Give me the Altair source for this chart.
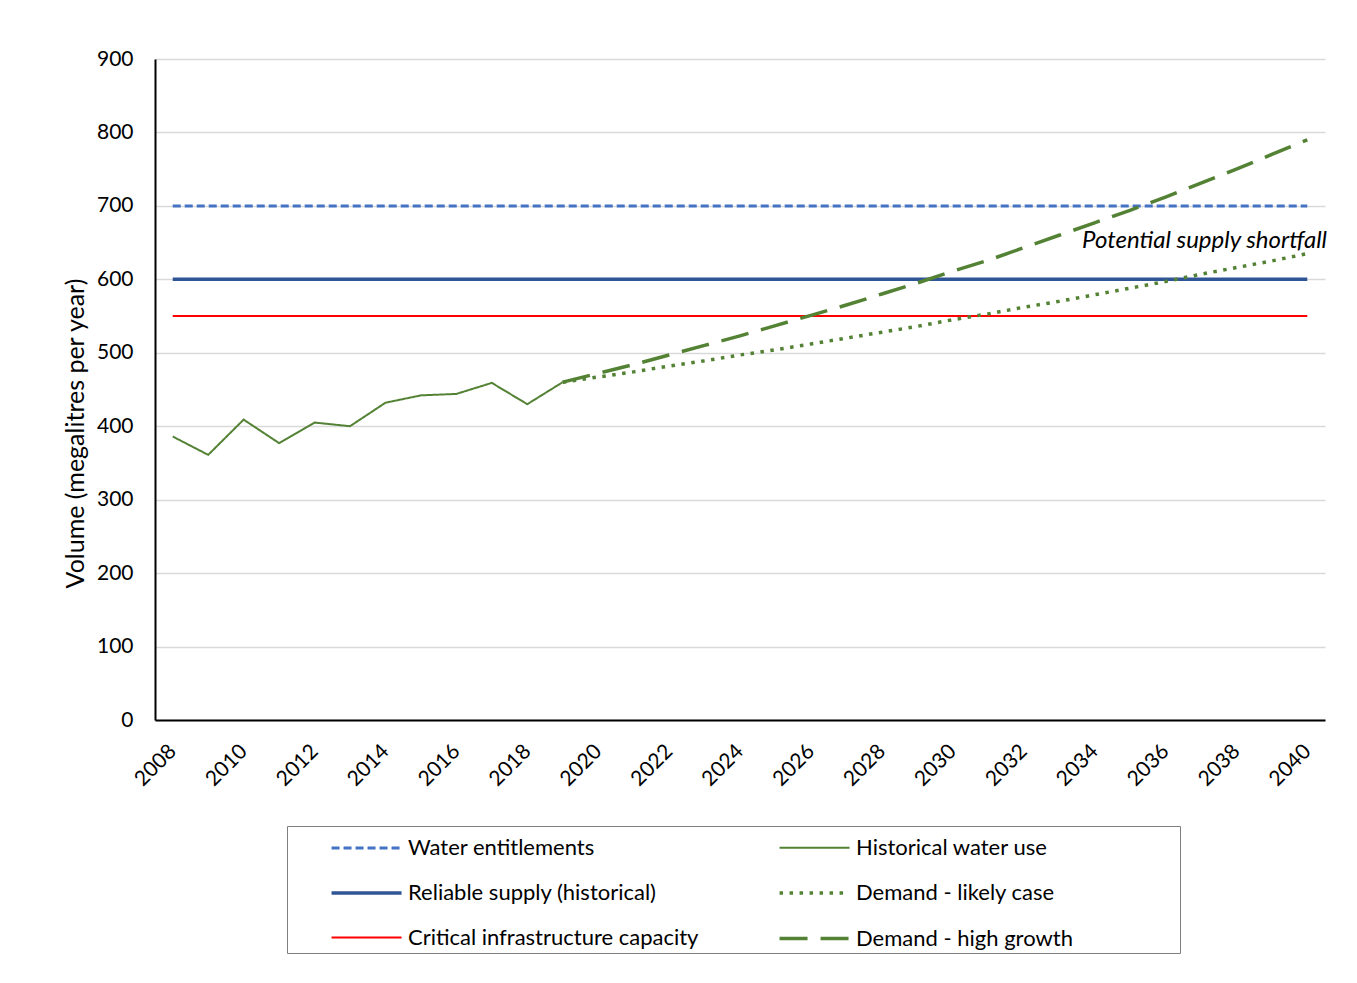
import altair as alt
import pandas as pd

FONT = "Lato"

years = list(range(2008, 2041))
hist_years = list(range(2008, 2020))
hist_use = [386, 361, 409, 377, 405, 400, 432, 442, 444, 459, 430, 460]
proj_years = list(range(2019, 2041))
demand_likely = [460, 467, 474, 482, 489, 497, 504, 512, 520, 528, 536, 545,
                 553, 562, 570, 579, 588, 597, 607, 616, 625, 635]
demand_high = [460, 472, 484, 497, 510, 523, 537, 551, 565, 580, 595, 611,
               626, 643, 660, 677, 694, 712, 731, 750, 770, 790]
entitlements = 700
reliable_supply = 600
critical_capacity = 550

series_order = [
    "Water entitlements",
    "Reliable supply (historical)",
    "Critical infrastructure capacity",
    "Historical water use",
    "Demand - likely case",
    "Demand - high growth",
]
series_colors = ["#4472C4", "#2F5597", "#FF0000", "#548235", "#548235", "#548235"]
series_dash = [[8, 4], [1, 0], [1, 0], [1, 0], [3.5, 6.5], [28, 13]]
series_width = [3, 3.5, 2, 2, 3.5, 3.5]

rows = []
for y in years:
    rows.append({"year": y, "value": entitlements, "series": "Water entitlements"})
    rows.append({"year": y, "value": reliable_supply, "series": "Reliable supply (historical)"})
    rows.append({"year": y, "value": critical_capacity, "series": "Critical infrastructure capacity"})
for y, v in zip(hist_years, hist_use):
    rows.append({"year": y, "value": v, "series": "Historical water use"})
for y, v in zip(proj_years, demand_likely):
    rows.append({"year": y, "value": v, "series": "Demand - likely case"})
for y, v in zip(proj_years, demand_high):
    rows.append({"year": y, "value": v, "series": "Demand - high growth"})
df = pd.DataFrame(rows)

x_enc = alt.X(
    "year:Q",
    scale=alt.Scale(domain=[2007.5, 2040.5], nice=False, zero=False),
    axis=alt.Axis(
        values=list(range(2008, 2041, 2)),
        format="d",
        labelAngle=-45,
        labelAlign="right",
        labelBaseline="middle",
        labelPadding=28,
        labelFontSize=21,
        grid=False,
        ticks=False,
        domainColor="#000000",
        domainWidth=2,
        title=None,
    ),
)
y_enc = alt.Y(
    "value:Q",
    scale=alt.Scale(domain=[0, 900], nice=False),
    axis=alt.Axis(
        values=list(range(0, 901, 100)),
        labelPadding=22,
        labelFontSize=21,
        grid=True,
        gridColor="#D9D9D9",
        gridWidth=1.5,
        ticks=False,
        domainColor="#000000",
        domainWidth=2,
        title="Volume (megalitres  per year)",
        titleFontSize=25,
        titleFontWeight="normal",
        titleAngle=-90,
        titleAlign="center",
        titleBaseline="middle",
        titleX=-80,
        titleY=374,
    ),
)

lines = alt.Chart(df).mark_line().encode(
    x=x_enc,
    y=y_enc,
    color=alt.Color(
        "series:N",
        scale=alt.Scale(domain=series_order, range=series_colors),
        legend=alt.Legend(
            title="\u00a0",
            titleOrient="right",
            titlePadding=104,
            titleFontSize=11,
            orient="none",
            legendX=132,
            legendY=767,
            columns=2,
            symbolType="M1.26,0H5.26",
            symbolSize=1225,
            labelFontSize=22,
            labelLimit=500,
            labelOffset=79,
            rowPadding=14.5,
            columnPadding=39,
            padding=3,
            strokeColor="#7F7F7F",
            fillColor="#FFFFFF",
        ),
    ),
    strokeDash=alt.StrokeDash(
        "series:N", scale=alt.Scale(domain=series_order, range=series_dash), legend=None
    ),
    strokeWidth=alt.StrokeWidth(
        "series:N",
        scale=alt.Scale(type="ordinal", domain=series_order, range=series_width),
        legend=None,
    ),
    order=alt.Order("year:Q"),
)

note_df = pd.DataFrame({"year": [2040.5], "value": [652], "label": ["Potential supply shortfall"]})
note = alt.Chart(note_df).mark_text(
    align="right", baseline="middle", fontStyle="italic", fontSize=24, font=FONT, color="#000000", dx=2
).encode(x="year:Q", y="value:Q", text="label:N")

chart = (
    alt.layer(lines, note)
    .properties(
        width=1170,
        height=661,
        autosize=alt.AutoSizeParams(type="none"),
        padding={"left": 155, "top": 59, "right": 32, "bottom": 263},
    )
    .configure(font=FONT, background="#FFFFFF")
    .configure_view(stroke=None)
    .configure_axis(labelColor="#000000", titleColor="#000000", labelFont=FONT, titleFont=FONT)
    .configure_legend(labelColor="#000000", labelFont=FONT)
)

chart.save("out.html", embed_options={"renderer": "svg", "actions": False})
